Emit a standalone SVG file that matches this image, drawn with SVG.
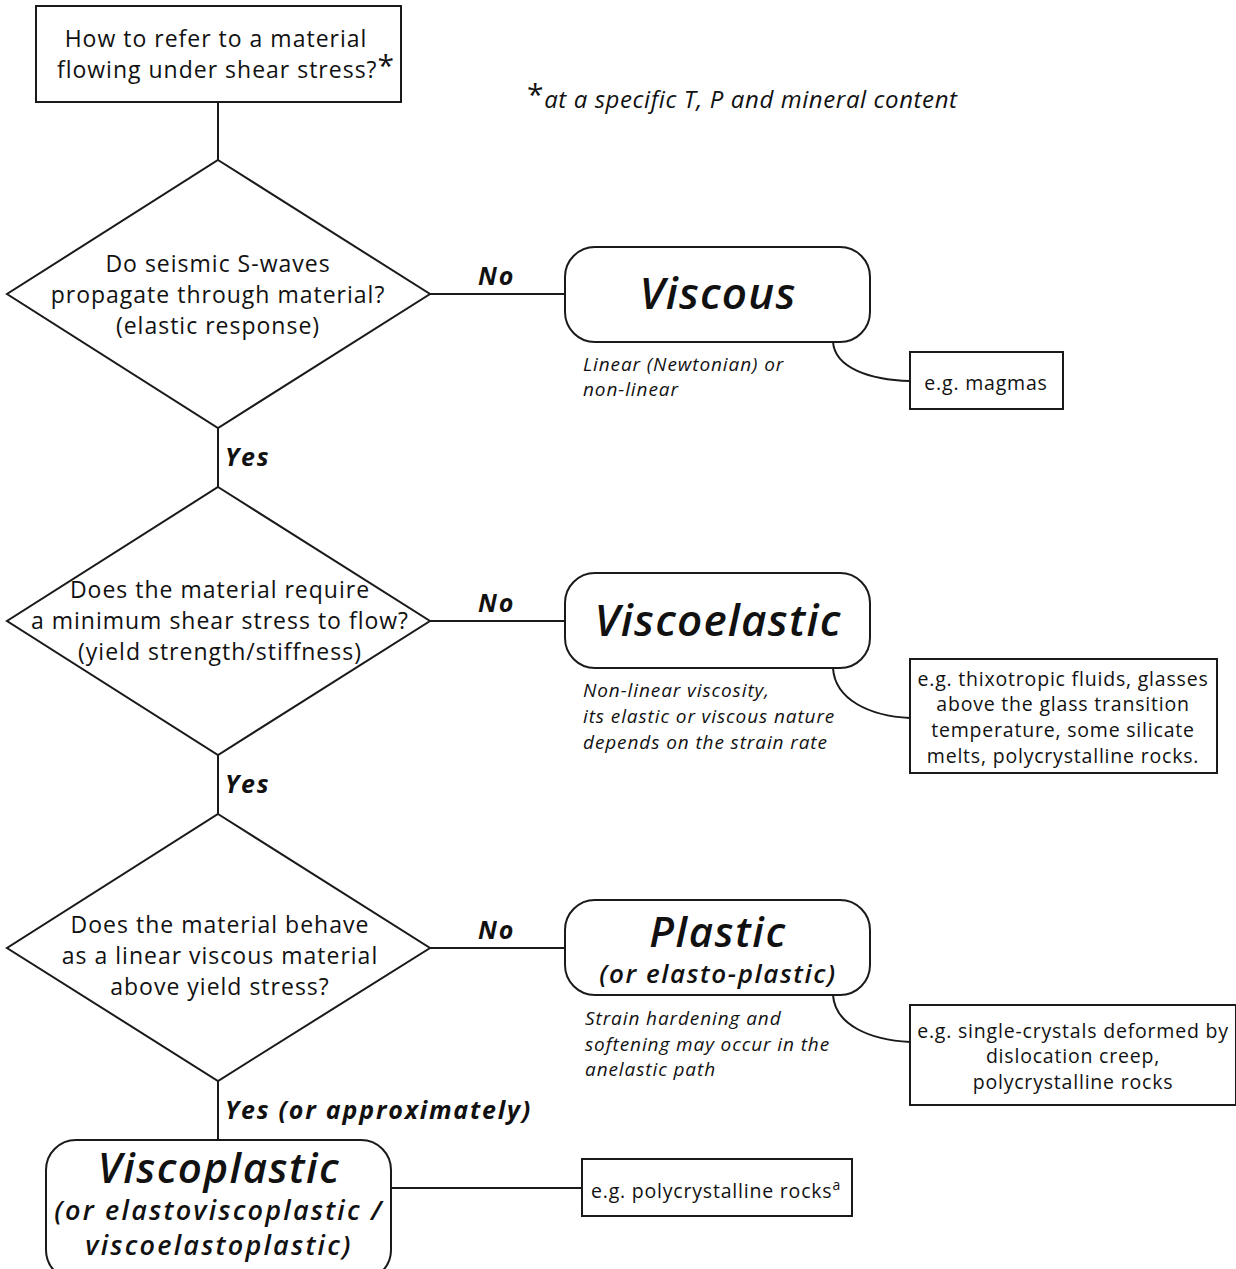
<svg xmlns="http://www.w3.org/2000/svg" width="1236" height="1269" viewBox="0 0 1236 1269">
<style>
.shape{fill:#fff;stroke:#1a1a1a;stroke-width:2}
.conn{fill:none;stroke:#1a1a1a;stroke-width:2}
text{font-family:"Open Sans","Lato",sans-serif;fill:#111}
.q{font-size:23px;text-anchor:middle;letter-spacing:1px}
.ex{font-size:19.5px;text-anchor:middle;letter-spacing:0.8px}
.note{font-size:19px;font-style:italic;letter-spacing:0.9px}
.foot{font-size:24px;font-style:italic;letter-spacing:0.6px}
.lbl{font-size:25px;font-style:italic;font-weight:700;letter-spacing:1.8px}
.title{font-size:44px;font-style:italic;font-weight:600;text-anchor:middle;letter-spacing:1.2px}
.sub{font-size:26px;font-style:italic;font-weight:600;text-anchor:middle;letter-spacing:1.6px}
.vp{font-size:42px;letter-spacing:1.5px}
.vps{font-size:27px;letter-spacing:2.2px}
</style>
<rect width="1236" height="1269" fill="#fff"/>
<g id="connectors">
<line class="conn" x1="218" y1="102" x2="218" y2="160"/>
<line class="conn" x1="430" y1="294" x2="565" y2="294"/>
<line class="conn" x1="218" y1="428" x2="218" y2="487"/>
<line class="conn" x1="430" y1="621" x2="565" y2="621"/>
<line class="conn" x1="218" y1="755" x2="218" y2="814"/>
<line class="conn" x1="430" y1="948" x2="565" y2="948"/>
<line class="conn" x1="218" y1="1081" x2="218" y2="1140"/>
<line class="conn" x1="391" y1="1188" x2="582" y2="1188"/>
<path class="conn" d="M833,342 C835,368 870,380 910,381"/>
<path class="conn" d="M833,668 C835,700 870,716 910,718"/>
<path class="conn" d="M833,995 C835,1025 870,1040 910,1042"/>
<text class="lbl" x="478" y="285">No</text>
<text class="lbl" x="478" y="612">No</text>
<text class="lbl" x="478" y="939">No</text>
<text class="lbl" x="225" y="466">Yes</text>
<text class="lbl" x="225" y="793">Yes</text>
<text class="lbl" x="225" y="1119">Yes (or approximately)</text>
</g>
<g id="start">
<rect class="shape" x="36" y="6" width="365" height="96"/>
<text class="q" x="216" y="47">How to refer to a material</text>
<text class="q" x="226" y="78">flowing under shear stress?<tspan font-size="30" dy="-2">*</tspan></text>
</g>
<g id="footnote">
<text class="foot" x="527" y="108"><tspan font-size="30" font-style="normal" dy="-3">*</tspan><tspan dy="3">at a specific T, P and mineral content</tspan></text>
</g>
<g id="q1">
<polygon class="shape" points="218,160 430,294 218,428 7,294"/>
<text class="q" x="218" y="272">Do seismic S-waves</text>
<text class="q" x="218" y="303">propagate through material?</text>
<text class="q" x="218" y="334">(elastic response)</text>
</g>
<g id="viscous">
<rect class="shape" x="565" y="247" width="305" height="95" rx="30"/>
<text class="title" x="718" y="309">Viscous</text>
<text class="note" x="583" y="371">Linear (Newtonian) or</text>
<text class="note" x="583" y="396">non-linear</text>
</g>
<g id="ex-viscous">
<rect class="shape" x="910" y="352" width="153" height="57"/>
<text class="ex" x="986" y="390">e.g. magmas</text>
</g>
<g id="q2">
<polygon class="shape" points="218,487 430,621 218,755 7,621"/>
<text class="q" x="220" y="598">Does the material require</text>
<text class="q" x="220" y="629">a minimum shear stress to flow?</text>
<text class="q" x="220" y="660">(yield strength/stiffness)</text>
</g>
<g id="viscoelastic">
<rect class="shape" x="565" y="573" width="305" height="95" rx="30"/>
<text class="title" x="718" y="636">Viscoelastic</text>
<text class="note" x="583" y="697">Non-linear viscosity,</text>
<text class="note" x="583" y="723">its elastic or viscous nature</text>
<text class="note" x="583" y="749">depends on the strain rate</text>
</g>
<g id="ex-viscoelastic">
<rect class="shape" x="910" y="659" width="307" height="114"/>
<text class="ex" x="1063" y="686">e.g. thixotropic fluids, glasses</text>
<text class="ex" x="1063" y="711">above the glass transition</text>
<text class="ex" x="1063" y="737">temperature, some silicate</text>
<text class="ex" x="1063" y="763">melts, polycrystalline rocks.</text>
</g>
<g id="q3">
<polygon class="shape" points="218,814 430,948 218,1081 7,948"/>
<text class="q" x="220" y="933">Does the material behave</text>
<text class="q" x="220" y="964">as a linear viscous material</text>
<text class="q" x="220" y="995">above yield stress?</text>
</g>
<g id="plastic">
<rect class="shape" x="565" y="900" width="305" height="95" rx="30"/>
<text class="title" x="718" y="947" style="font-size:42px;letter-spacing:1.6px">Plastic</text>
<text class="sub" x="718" y="983">(or elasto-plastic)</text>
<text class="note" x="585" y="1025">Strain hardening and</text>
<text class="note" x="585" y="1051">softening may occur in the</text>
<text class="note" x="585" y="1076">anelastic path</text>
</g>
<g id="ex-plastic">
<rect class="shape" x="910" y="1005" width="326" height="100"/>
<text class="ex" x="1073" y="1038">e.g. single-crystals deformed by</text>
<text class="ex" x="1073" y="1063">dislocation creep,</text>
<text class="ex" x="1073" y="1089">polycrystalline rocks</text>
</g>
<g id="viscoplastic">
<rect class="shape" x="46" y="1140" width="345" height="140" rx="30"/>
<text class="title vp" x="219" y="1183">Viscoplastic</text>
<text class="sub vps" x="219" y="1220">(or elastoviscoplastic /</text>
<text class="sub vps" x="219" y="1255">viscoelastoplastic)</text>
</g>
<g id="ex-viscoplastic">
<rect class="shape" x="582" y="1159" width="270" height="57"/>
<text class="ex" x="716" y="1198">e.g. polycrystalline rocks<tspan font-size="14" dy="-8">a</tspan></text>
</g>
</svg>
